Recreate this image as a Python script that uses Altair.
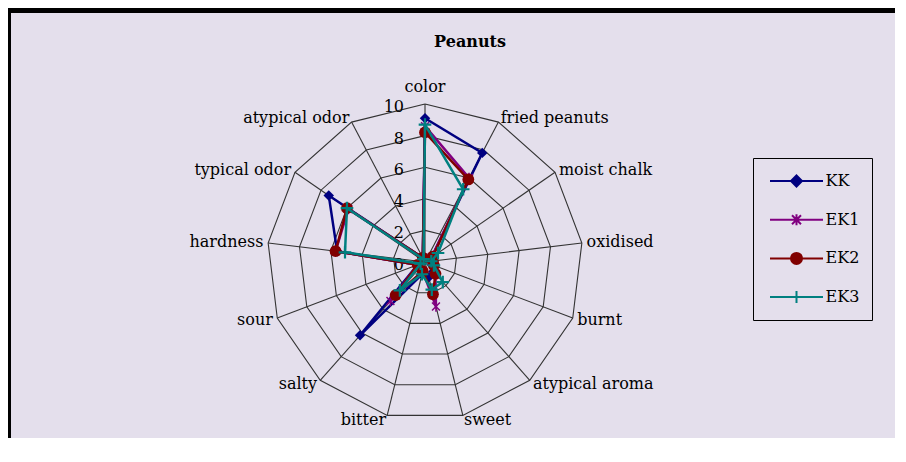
import altair as alt
import numpy as np
import pandas as pd

# ---------------- data ----------------
title_text = "Peanuts"
attributes = ["color", "fried peanuts", "moist chalk", "oxidised", "burnt",
              "atypical aroma", "sweet", "bitter", "salty", "sour",
              "hardness", "typical odor", "atypical odor"]
series_names = ["KK", "EK1", "EK2", "EK3"]
kk_values = [9.1, 7.8, 0.5, 0.5, 0.5, 0.8, 1.0, 0.8, 6.2, 0.5, 5.6, 7.4, 0.3]
ek1_values = [8.6, 6.0, 0.5, 0.4, 0.6, 1.0, 2.9, 0.6, 3.3, 0.5, 5.7, 5.9, 0.3]
ek2_values = [8.2, 5.9, 0.6, 0.5, 0.6, 1.0, 2.1, 0.6, 2.8, 0.5, 5.7, 6.0, 0.3]
ek3_values = [8.7, 5.2, 1.0, 0.4, 0.6, 1.7, 1.8, 0.8, 2.4, 0.3, 5.1, 6.0, 0.2]
ring_values = [2, 4, 6, 8, 10]
tick_values = [0, 2, 4, 6, 8, 10]
tick_labels = ["0", "2", "4", "6", "8", "10"]

# ---------------- style ----------------
colors = ["#000080", "#800080", "#800000", "#008080"]
BG = "#E4DFEC"
GRID = "#333333"
FONT = "DejaVu Serif"
PAD_L, PAD_T = 3, 5
W, H = 884, 425          # plot area
CX, CY = 414, 249        # centre of radar in plot pixels
PX = 15.8                # pixels per unit
MAXV = 10
LABEL_R = 10.3

n = len(attributes)
angles = [2 * np.pi * i / n for i in range(n)]

rows = []
for name, vals in zip(series_names, [kk_values, ek1_values, ek2_values, ek3_values]):
    for k in range(n + 1):
        i = k % n
        rows.append({"series": name, "attr": attributes[i], "idx": k,
                     "x": vals[i] * np.sin(angles[i]),
                     "y": vals[i] * np.cos(angles[i])})
series_df = pd.DataFrame(rows)

ring_rows = []
for r in ring_values:
    for k in range(n + 1):
        i = k % n
        ring_rows.append({"ring": r, "idx": k,
                          "x": r * np.sin(angles[i]), "y": r * np.cos(angles[i])})
rings_df = pd.DataFrame(ring_rows)

spokes_df = pd.DataFrame({
    "x": [0.0] * n, "y": [0.0] * n,
    "x2": [MAXV * np.sin(a) for a in angles],
    "y2": [MAXV * np.cos(a) for a in angles],
})

lab_rows = []
for i, a in enumerate(angles):
    s = np.sin(a)
    side = "left" if s > 0.1 else ("right" if s < -0.1 else "center")
    lab_rows.append({"label": attributes[i], "side": side,
                     "x": LABEL_R * np.sin(a), "y": LABEL_R * np.cos(a)})
labels_df = pd.DataFrame(lab_rows)

ticks_df = pd.DataFrame({"x": [0.0] * len(tick_values), "y": tick_values, "t": tick_labels})

x_scale = alt.Scale(domain=[-CX / PX, (W - CX) / PX], nice=False, zero=False)
y_scale = alt.Scale(domain=[(CY - H) / PX, CY / PX], nice=False, zero=False)
X = alt.X("x:Q", scale=x_scale, axis=None)
Y = alt.Y("y:Q", scale=y_scale, axis=None)

rings = alt.Chart(rings_df).mark_line(color=GRID, strokeWidth=1.1).encode(
    x=X, y=Y, detail="ring:N", order="idx:Q")
spokes = alt.Chart(spokes_df).mark_rule(color=GRID, strokeWidth=1.1).encode(
    x=X, y=Y, x2="x2:Q", y2="y2:Q")
ticks = alt.Chart(ticks_df).mark_text(align="right", baseline="middle", dx=-21, dy=3,
                                      font=FONT, fontSize=16, color="black").encode(
    x=X, y=Y, text="t:N")

lab_left = alt.Chart(labels_df).transform_filter(alt.datum.side == "left").mark_text(
    align="left", baseline="middle", font=FONT, fontSize=16, color="black").encode(
    x=X, y=Y, text="label:N")
lab_right = alt.Chart(labels_df).transform_filter(alt.datum.side == "right").mark_text(
    align="right", baseline="middle", font=FONT, fontSize=16, color="black").encode(
    x=X, y=Y, text="label:N")
lab_center = alt.Chart(labels_df).transform_filter(alt.datum.side == "center").mark_text(
    align="center", baseline="alphabetic", dy=-7, font=FONT, fontSize=16, color="black").encode(
    x=X, y=Y, text="label:N")

ASTER = "M-0.75,-0.75L0.75,0.75M-0.75,0.75L0.75,-0.75M0,-1L0,1"
PLUS = "M-1,0L1,0M0,-1L0,1"
marker_specs = [
    dict(shape="diamond", size=110, filled=True, strokeWidth=1),
    dict(shape=ASTER, size=110, filled=False, strokeWidth=1.5),
    dict(shape="circle", size=140, filled=True, strokeWidth=1),
    dict(shape=PLUS, size=160, filled=False, strokeWidth=2.2),
]

series_layers = []
for name, c, ms in zip(series_names, colors, marker_specs):
    base = alt.Chart(series_df).transform_filter(alt.datum.series == name)
    line = base.mark_line(color=c, strokeWidth=2.5).encode(x=X, y=Y, order="idx:Q")
    pts = base.transform_filter(alt.datum.idx < n).mark_point(
        color=c, opacity=1, **ms).encode(x=X, y=Y)
    series_layers += [line, pts]

legend_shapes = [
    "M-2.65,0L2.65,0M0,-0.55L0.55,0L0,0.55L-0.55,0Z",
    "M-2.65,0L2.65,0M-0.45,-0.45L0.45,0.45M-0.45,0.45L0.45,-0.45M0,-0.55L0,0.55",
    "M-2.65,0L2.65,0M0.55,0A0.55,0.55,0,1,1,-0.55,0A0.55,0.55,0,1,1,0.55,0Z",
    "M-2.65,0L2.65,0M0,-0.6L0,0.6",
]
leg = alt.Legend(title=None, orient="none", legendX=742, legendY=145, padding=12,
                 symbolSize=400, symbolStrokeWidth=2, symbolOffset=20.5, labelOffset=18,
                 rowPadding=17.7, labelFont=FONT, labelFontSize=16, labelColor="black",
                 strokeColor="black", fillColor=BG)
legend_df = pd.DataFrame({"series": series_names, "x": [0.0] * 4, "y": [0.0] * 4})
legend_layer = alt.Chart(legend_df).transform_filter("false").mark_point(
    filled=True, opacity=1).encode(
    x=X, y=Y,
    fill=alt.Fill("series:N", scale=alt.Scale(domain=series_names, range=colors), legend=leg),
    stroke=alt.Stroke("series:N", scale=alt.Scale(domain=series_names, range=colors), legend=leg),
    shape=alt.Shape("series:N", scale=alt.Scale(domain=series_names, range=legend_shapes), legend=leg),
)

title = alt.Chart(pd.DataFrame({"t": [title_text]})).mark_text(
    font=FONT, fontSize=16, fontWeight="bold", color="black", baseline="middle").encode(
    x=alt.value(459), y=alt.value(29), text="t:N")

frame_df = pd.DataFrame({"k": [0]})
frame_top = alt.Chart(frame_df).mark_rule(color="black", strokeWidth=PAD_T).encode(
    x=alt.value(-PAD_L), x2=alt.value(W), y=alt.value(-PAD_T / 2))
frame_left = alt.Chart(frame_df).mark_rule(color="black", strokeWidth=PAD_L).encode(
    x=alt.value(-PAD_L / 2), y=alt.value(-PAD_T), y2=alt.value(H))

chart = alt.layer(rings, spokes, ticks, lab_left, lab_right, lab_center,
                  *series_layers, legend_layer, title, frame_top, frame_left).properties(
    width=W, height=H, background=BG,
    padding={"left": PAD_L, "top": PAD_T, "right": 0, "bottom": 0},
    autosize=alt.AutoSizeParams(type="none"),
).configure_view(stroke=None, fill=BG)

chart.save("out.html", embed_options={"renderer": "svg", "actions": False})
